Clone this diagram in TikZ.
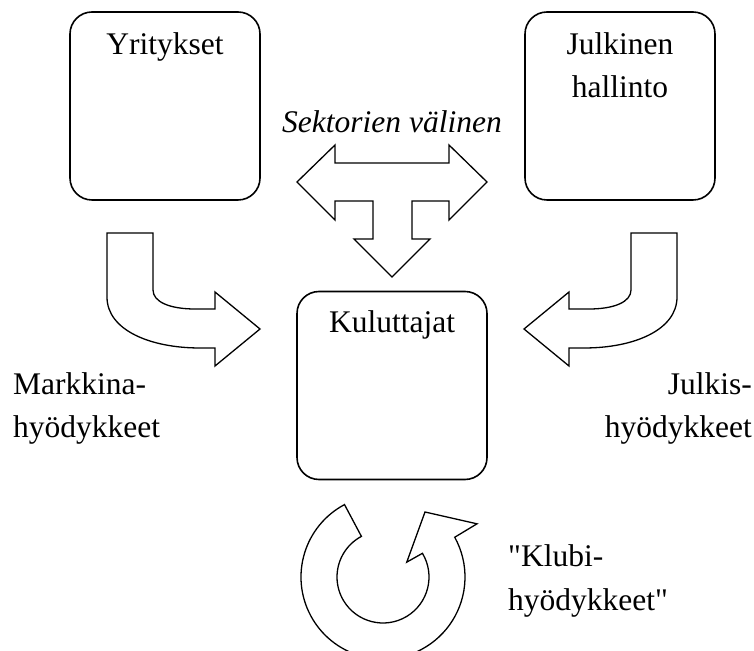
\documentclass[tikz,border=0pt]{standalone}
\usepackage{fontspec}
\setmainfont{Liberation Serif}[Ligatures=TeXOff]
\usetikzlibrary{calc}
\begin{document}
\begin{tikzpicture}[x=1pt,y=1pt,
  box/.style={draw, line width=1.6pt, rounded corners=22pt, minimum width=190pt, minimum height=188pt, inner sep=0pt},
  lbl/.style={inner sep=0pt, font=\fontsize{31.5}{43}\selectfont},
  blk/.style={draw, line width=1.3pt, line join=miter, fill=white}]
\useasboundingbox (0,0) rectangle (754,650);
% boxes
\node[box] (yr) at (165,544) {};
\node[box] (jh) at (620,544) {};
\node[box] (ku) at (392,264.5) {};
\node[lbl, anchor=base] (yrt) at (165,595) {Yritykset};
\node[lbl, anchor=base, align=center] (jht) at (620,552) {Julkinen\\hallinto};
\node[lbl, anchor=base] (kut) at (392,317) {Kuluttajat};
\node[lbl, anchor=base, font=\fontsize{31.5}{43}\selectfont\itshape] (sek) at (392,517) {Sektorien välinen};
\node[lbl, anchor=base west, align=left] (mk) at (13,212) {Markkina-\\hyödykkeet};
\node[lbl, anchor=base east, align=right] (jk) at (752,212) {Julkis-\\hyödykkeet};
\node[lbl, anchor=base west, align=left] (kl) at (508,40) {"Klubi-\\hyödykkeet"};
% T-shaped block arrow
\draw[blk] (297,468) -- (335,505) -- (335,487) -- (449,487) -- (449,505) -- (487,468)
  -- (449,430) -- (449,449) -- (412,449) -- (412,411) -- (430,411) -- (392,373)
  -- (354,411) -- (373,411) -- (373,449) -- (335,449) -- (335,430) -- cycle;
% left bent arrow
\draw[blk] (107,417) -- (153,417) -- (153,360) .. controls (153,348) and (170,341) .. (195,341)
  -- (215,341) -- (215,358) -- (260,321) -- (215,284) -- (215,302) -- (200,302)
  .. controls (150,302) and (107,320) .. (107,353) -- cycle;
% right bent arrow
\draw[blk] (677,417) -- (631,417) -- (631,360) .. controls (631,348) and (614,341) .. (589,341)
  -- (569,341) -- (569,358) -- (524,321) -- (569,284) -- (569,302) -- (584,302)
  .. controls (634,302) and (677,320) .. (677,353) -- cycle;
% circular arrow
\coordinate (cc) at (383,73);
\draw[blk] ($(cc)+(118:82)$) arc[start angle=118, end angle=389, radius=82]
  -- ($(cc)+(29.5:108)$) -- ($(cc)+(42,65)$) -- ($(cc)+(32:28)$) -- ($(cc)+(31:46)$)
  arc[start angle=31, end angle=-242, radius=46] -- cycle;
\end{tikzpicture}
\end{document}
